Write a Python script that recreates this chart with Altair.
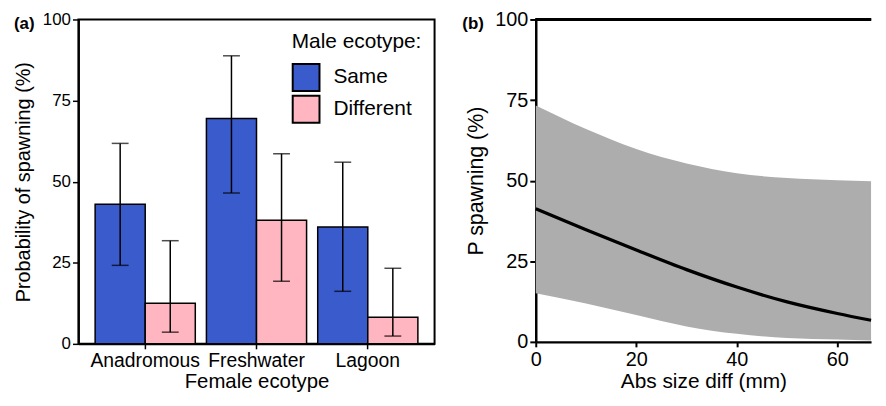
import altair as alt
import pandas as pd

# ---- Panel (a) data ----
female = ["Anadromous", "Freshwater", "Lagoon"]
male = ["Same", "Different"]
same_prob = [43.0, 69.5, 36.0]
same_lo = [24.2, 46.5, 16.2]
same_hi = [61.8, 88.8, 56.0]
diff_prob = [12.5, 38.1, 8.2]
diff_lo = [3.6, 19.3, 2.4]
diff_hi = [31.8, 58.6, 23.3]

# ---- Panel (b) data ----
size_diff = [0, 10, 20, 30, 40, 50, 60, 66.7]
p_mean = [41.3, 34.8, 28.5, 22.4, 17.0, 12.4, 8.8, 6.7]
p_upper = [73.3, 66.0, 59.8, 55.3, 52.3, 50.8, 50.1, 49.8]
p_lower = [15.1, 11.9, 8.3, 4.8, 2.5, 1.2, 0.7, 0.45]
x_max = 66.7

rows = []
for i, f in enumerate(female):
    rows.append({"Female": f, "Male": "Same", "p": same_prob[i], "lo": same_lo[i], "hi": same_hi[i]})
    rows.append({"Female": f, "Male": "Different", "p": diff_prob[i], "lo": diff_lo[i], "hi": diff_hi[i]})
dfa = pd.DataFrame(rows)
dfb = pd.DataFrame({"x": size_diff, "m": p_mean, "u": p_upper, "l": p_lower})

FONT = "Liberation Sans"

xa = alt.X("Female:N", sort=female,
           scale=alt.Scale(paddingInner=0.1, paddingOuter=0.15),
           axis=alt.Axis(title="Female ecotype", labelAngle=0, labelFontSize=19.5,
                         titleFontSize=20.5, titleFontWeight="normal", labelColor="black",
                         titleColor="black", tickColor="black", tickWidth=1.5, tickSize=5,
                         domainColor="black", domainWidth=2, labelPadding=3, titlePadding=2,
                         grid=False))
ya = alt.Y("p:Q", scale=alt.Scale(domain=[0, 100], nice=False),
           axis=alt.Axis(title="Probability of spawning (%)", values=[0, 25, 50, 75, 100],
                         labelFontSize=17, titleFontSize=20, titleFontWeight="normal",
                         labelColor="black", titleColor="black", tickColor="black",
                         tickWidth=1.5, tickSize=6, domainColor="black", domainWidth=2,
                         labelPadding=2, titlePadding=9, grid=False))
xoff = alt.XOffset("Male:N", sort=male)

base_a = alt.Chart(dfa)
bars = base_a.mark_bar(stroke="black", strokeWidth=1.5).encode(
    x=xa, xOffset=xoff, y=ya,
    fill=alt.Fill("Male:N", sort=male,
                  scale=alt.Scale(domain=male, range=["#3a5bcc", "#ffb6c1"]),
                  legend=alt.Legend(orient="none", legendX=215, legendY=12,
                                    title="Male ecotype:", titleFontSize=21,
                                    titleFontWeight="normal", titleColor="black",
                                    labelFontSize=21, labelColor="black",
                                    symbolType="square", symbolSize=729,
                                    symbolStrokeColor="black", symbolStrokeWidth=2,
                                    symbolOpacity=1, rowPadding=-5, labelOffset=13,
                                    titlePadding=11, padding=0)))
err = base_a.mark_rule(color="black", strokeWidth=1.5).encode(
    x=alt.X("Female:N", sort=female), xOffset=xoff, y="lo:Q", y2="hi:Q")
cap_hi = base_a.mark_tick(color="black", thickness=1.5, size=17).encode(
    x=alt.X("Female:N", sort=female), xOffset=xoff, y="hi:Q")
cap_lo = base_a.mark_tick(color="black", thickness=1.5, size=17).encode(
    x=alt.X("Female:N", sort=female), xOffset=xoff, y="lo:Q")
lab_a = alt.Chart(pd.DataFrame({"t": ["(a)"]})).mark_text(
    fontWeight="bold", fontSize=17, align="left", baseline="alphabetic", color="black"
).encode(x=alt.value(-65), y=alt.value(10), text="t:N")

panel_a = alt.layer(bars, err, cap_hi, cap_lo, lab_a).properties(
    width=359, height=327, view=alt.ViewBackground(stroke="black", strokeWidth=2))

# ---- Panel (b) ----
xb = alt.X("x:Q", scale=alt.Scale(domain=[0, x_max], nice=False, zero=False),
           axis=alt.Axis(title="Abs size diff (mm)", values=[0, 20, 40, 60],
                         labelFontSize=20, titleFontSize=21, titleFontWeight="normal",
                         labelColor="black", titleColor="black", tickColor="black",
                         tickWidth=2, tickSize=5, domainColor="black", domainWidth=2.5,
                         labelPadding=3, titlePadding=1, grid=False, labelFlush=False))
yb = alt.Y("u:Q", scale=alt.Scale(domain=[0, 100], nice=False),
           axis=alt.Axis(title="P spawning (%)", values=[0, 25, 50, 75, 100],
                         labelFontSize=20, titleFontSize=21.5, titleFontWeight="normal",
                         labelColor="black", titleColor="black", tickColor="black",
                         tickWidth=2, tickSize=6, domainColor="black", domainWidth=2.5,
                         labelPadding=2, titlePadding=7, grid=False))
base_b = alt.Chart(dfb)
band = base_b.mark_area(color="#adadad", opacity=1, interpolate="monotone").encode(
    x=xb, y=yb, y2="l:Q")
line = base_b.mark_line(color="black", strokeWidth=3.3, interpolate="monotone").encode(
    x="x:Q", y="m:Q")
top = base_b.mark_rule(color="black", strokeWidth=2.5).encode(
    x=alt.datum(0), x2=alt.datum(x_max), y=alt.datum(100))
lab_b = alt.Chart(pd.DataFrame({"t": ["(b)"]})).mark_text(
    fontWeight="bold", fontSize=17, align="left", baseline="alphabetic", color="black"
).encode(x=alt.value(-74), y=alt.value(10), text="t:N")

panel_b = alt.layer(band, line, top, lab_b).properties(
    width=338, height=325, view=alt.ViewBackground(stroke=None))

chart = alt.hconcat(panel_a, panel_b, spacing=27).properties(
    padding={"left": 4, "top": 0, "right": 0, "bottom": 0}
).configure(font=FONT).configure_view(strokeWidth=0)

chart.save("out.html", embed_options={"renderer": "svg", "actions": False})
